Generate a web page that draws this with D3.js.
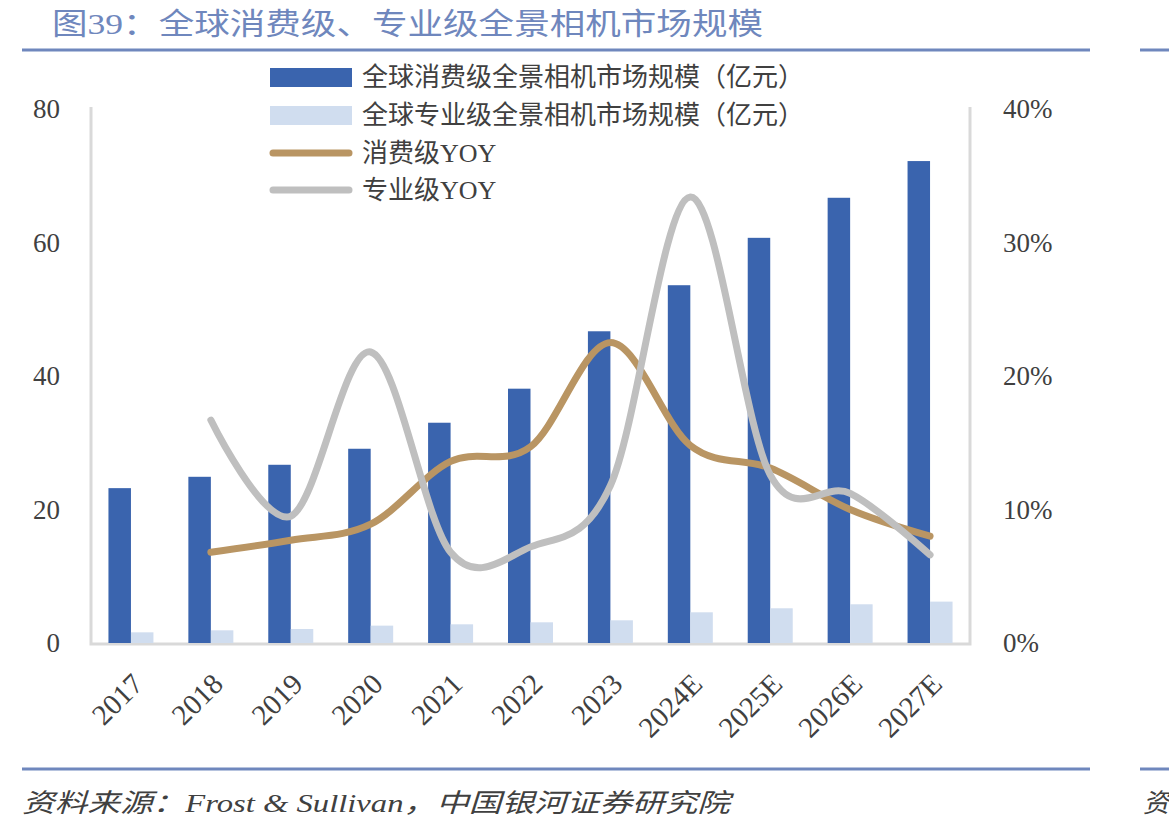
<!DOCTYPE html>
<html>
<head>
<meta charset="utf-8">
<script src="https://cdn.jsdelivr.net/npm/d3@7"></script>
<style>
  body { margin: 0; background: #fff; }
  text { font-family: "Liberation Serif", "Noto Sans CJK SC", serif; }
</style>
</head>
<body>
<script>
// data
var years = ['2017', '2018', '2019', '2020', '2021', '2022', '2023', '2024E', '2025E', '2026E', '2027E'];
var consumerSize = [23.2, 24.9, 26.7, 29.1, 33.0, 38.1, 46.7, 53.6, 60.7, 66.7, 72.2];
var proSize = [1.6, 1.9, 2.1, 2.6, 2.8, 3.1, 3.4, 4.6, 5.2, 5.8, 6.2];
var consumerYoy = [null, 6.8, 7.7, 8.9, 13.6, 14.7, 22.5, 14.8, 13.1, 10.0, 8.0];
var proYoy = [null, 16.7, 9.5, 21.8, 6.8, 7.2, 11.8, 33.4, 12.6, 11.2, 6.6];
var leftTicks = [0, 20, 40, 60, 80];
var rightTicks = [0, 10, 20, 30, 40];
var legendNames = [
    '全球消费级全景相机市场规模（亿元）',
    '全球专业级全景相机市场规模（亿元）',
    '消费级YOY',
    '专业级YOY'
];

// colours
var colorBlue = '#3a64ae',
    colorLight = '#d0ddef',
    colorBrown = '#b99563',
    colorGray = '#bfbfbf',
    colorHead = '#6f87bd',
    colorText = '#404040';

var cjk = '"Noto Sans CJK SC", sans-serif';

var svg = d3.select('body')
    .append('svg')
    .attr('width', 1169)
    .attr('height', 833);

// title + rules
svg.append('text')
    .attr('x', 52)
    .attr('y', 34)
    .attr('fill', colorHead)
    .attr('font-family', cjk)
    .attr('font-size', 30)
    .attr('textLength', 711)
    .attr('lengthAdjust', 'spacingAndGlyphs')
    .text('图39：全球消费级、专业级全景相机市场规模');

[[22, 1090], [1140, 1169]].forEach(function (r) {
    svg.append('line')
        .attr('x1', r[0]).attr('x2', r[1])
        .attr('y1', 50).attr('y2', 50)
        .attr('stroke', colorHead).attr('stroke-width', 3);
    svg.append('line')
        .attr('x1', r[0]).attr('x2', r[1])
        .attr('y1', 769).attr('y2', 769)
        .attr('stroke', colorHead).attr('stroke-width', 3);
});

// scales
var x = d3.scaleBand().domain(years).range([91, 970]).padding(0);
var sub = d3.scaleBand().domain(['c', 'p']).range([-22.5, 22.5]);
var y = d3.scaleLinear().domain([0, 80]).range([643, 109]);
var y2 = d3.scaleLinear().domain([0, 40]).range([643, 109]);
var cx = function (d) { return x(d) + x.bandwidth() / 2; };

// frame
svg.append('path')
    .attr('d', 'M91,107V644H970V107')
    .attr('fill', 'none')
    .attr('stroke', '#d9d9d9')
    .attr('stroke-width', 3);

// bars
svg.append('g').selectAll('rect').data(years).enter().append('rect')
    .attr('x', function (d) { return cx(d) + sub('c'); })
    .attr('y', function (d, i) { return y(consumerSize[i]); })
    .attr('width', sub.bandwidth())
    .attr('height', function (d, i) { return y(0) - y(consumerSize[i]); })
    .attr('fill', colorBlue);

svg.append('g').selectAll('rect').data(years).enter().append('rect')
    .attr('x', function (d) { return cx(d) + sub('p'); })
    .attr('y', function (d, i) { return y(proSize[i]); })
    .attr('width', sub.bandwidth())
    .attr('height', function (d, i) { return y(0) - y(proSize[i]); })
    .attr('fill', colorLight);

// smoothed yoy lines
var line = d3.line()
    .defined(function (d) { return d[1] != null; })
    .x(function (d) { return cx(d[0]); })
    .y(function (d) { return y2(d[1]); })
    .curve(d3.curveCardinal.tension(0));

[[consumerYoy, colorBrown], [proYoy, colorGray]].forEach(function (s) {
    svg.append('path')
        .attr('d', line(years.map(function (d, i) { return [d, s[0][i]]; })))
        .attr('fill', 'none')
        .attr('stroke', s[1])
        .attr('stroke-width', 7)
        .attr('stroke-linecap', 'round');
});

// left axis labels
svg.append('g').selectAll('text').data(leftTicks).enter().append('text')
    .attr('x', 60)
    .attr('y', function (d) { return y(d); })
    .attr('dy', '0.35em')
    .attr('text-anchor', 'end')
    .attr('font-size', 27)
    .attr('fill', colorText)
    .text(function (d) { return d; });

// right axis labels
svg.append('g').selectAll('text').data(rightTicks).enter().append('text')
    .attr('x', 1003)
    .attr('y', function (d) { return y2(d); })
    .attr('dy', '0.35em')
    .attr('font-size', 27)
    .attr('fill', colorText)
    .text(function (d) { return d + '%'; });

// category labels
svg.append('g').selectAll('text').data(years).enter().append('text')
    .attr('transform', function (d) { return 'translate(' + (cx(d) - 1) + ',671) rotate(-45)'; })
    .attr('text-anchor', 'end')
    .attr('dy', '0.72em')
    .attr('font-size', 29)
    .attr('fill', colorText)
    .text(function (d) { return d; });

// legend
var lg = svg.append('g');
lg.append('rect').attr('x', 270).attr('y', 68).attr('width', 82).attr('height', 19).attr('fill', colorBlue);
lg.append('rect').attr('x', 270).attr('y', 106).attr('width', 82).attr('height', 19).attr('fill', colorLight);
lg.append('line').attr('x1', 273).attr('x2', 349).attr('y1', 153).attr('y2', 153)
    .attr('stroke', colorBrown).attr('stroke-width', 7).attr('stroke-linecap', 'round');
lg.append('line').attr('x1', 273).attr('x2', 349).attr('y1', 190).attr('y2', 190)
    .attr('stroke', colorGray).attr('stroke-width', 7).attr('stroke-linecap', 'round');
lg.selectAll('text').data(legendNames).enter().append('text')
    .attr('x', 362)
    .attr('y', function (d, i) { return 77 + i * 37.7; })
    .attr('dy', '0.35em')
    .attr('font-family', cjk)
    .attr('font-size', 26)
    .attr('fill', colorText)
    .text(function (d) { return d; });

// source
svg.append('text')
    .attr('x', 22)
    .attr('y', 812)
    .attr('font-family', cjk)
    .attr('font-style', 'italic')
    .attr('font-size', 26)
    .attr('fill', colorText)
    .attr('textLength', 708)
    .attr('lengthAdjust', 'spacingAndGlyphs')
    .text('资料来源：Frost & Sullivan，中国银河证券研究院');
svg.append('text')
    .attr('x', 1143)
    .attr('y', 812)
    .attr('font-family', cjk)
    .attr('font-style', 'italic')
    .attr('font-size', 26)
    .attr('fill', colorText)
    .text('资');
</script>
</body>
</html>
